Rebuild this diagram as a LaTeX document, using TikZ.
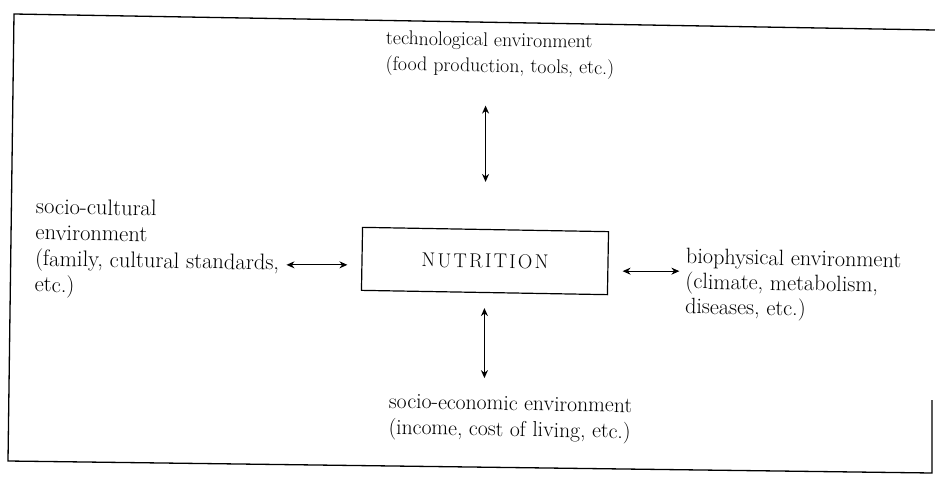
\documentclass[tikz,border=0pt]{standalone}
\usetikzlibrary{arrows.meta,positioning}

% letter-spaced caps for the box
\newcommand{\spacedcaps}[1]{\def\capgap{\kern2.2pt}\spacedcapsloop#1\relax}
\def\spacedcapsloop#1{\ifx#1\relax\else#1\expandafter\spacedcapsnext\fi}
\def\spacedcapsnext#1{\ifx#1\relax\else\capgap#1\expandafter\spacedcapsnext\fi}

\tikzset{
  envtext/.style={align=left, inner sep=0pt, rotate=-1, anchor=north west},
  envarrow/.style={{Stealth[length=8pt,width=7pt]}-{Stealth[length=8pt,width=7pt]}, line width=1.1pt},
  nutbox/.style={draw, line width=1.2pt, minimum width=246pt, minimum height=63pt, rotate=-1,
    font=\fontsize{20}{22}\selectfont}
}

\begin{document}
\begin{tikzpicture}[x=1pt,y=-1pt]
        \useasboundingbox (0,0) rectangle (935,477);

        % Outer frame
        \draw[line width=1.3pt] (932,400) -- (932,473) -- (8,461) -- (14,14) -- (935,30);

        % Central box
        \node[nutbox] (nut) at (485,261) {\spacedcaps{NUTRITION}};

        % Environments
        \node[envtext, font=\fontsize{19.8}{26}\selectfont] (tech) at (386,30.5) {technological environment\\(food production, tools, etc.)};
        \node[envtext, font=\fontsize{22.5}{26}\selectfont] (socio) at (36,198) {socio-cultural\\environment\\(family, cultural standards,\\etc.)};
        \node[envtext, font=\fontsize{22.2}{25}\selectfont] (bio) at (686,248) {biophysical environment\\(climate, metabolism,\\diseases, etc.)};
        \node[envtext, font=\fontsize{21.7}{26}\selectfont] (econ) at (389,394) {socio-economic environment\\(income, cost of living, etc.)};

        % Arrows
        \draw[envarrow, shorten <=28pt, shorten >=47pt] (tech.south -| nut.north) -- (nut.north);
        \draw[envarrow, shorten <=7pt, shorten >=14pt] ([yshift=-6pt]nut.west -| socio.east) -- ([yshift=-6pt]nut.west);
        \draw[envarrow, shorten <=14pt, shorten >=6pt] ([yshift=-8pt]nut.east) -- ([yshift=-8pt]nut.east -| bio.west);
        \draw[envarrow, shorten <=15pt, shorten >=18pt] (nut.south) -- (nut.south |- econ.north);
\end{tikzpicture}
\end{document}
